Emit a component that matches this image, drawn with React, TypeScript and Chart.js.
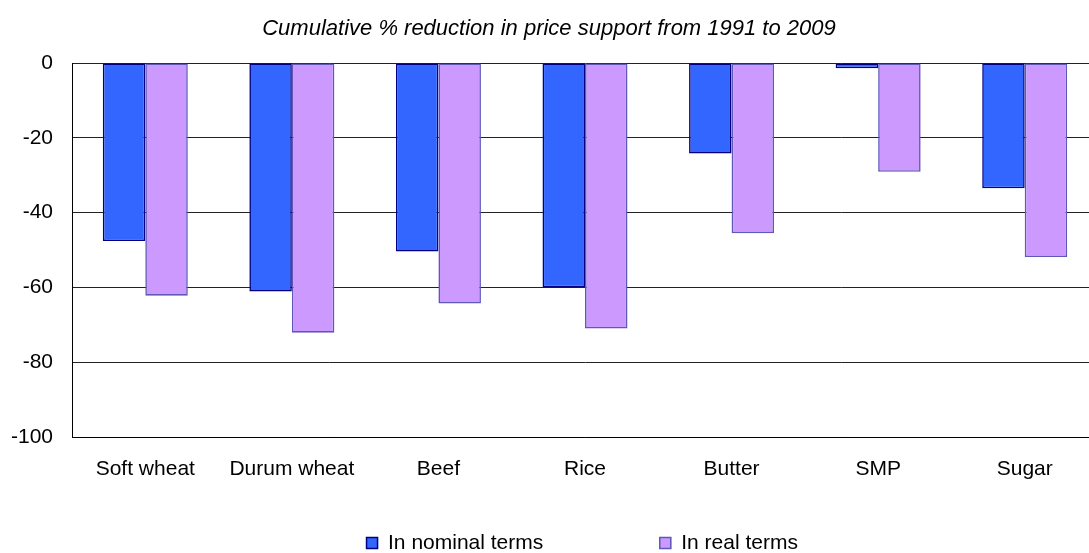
import React, { useEffect, useRef } from 'react';
import { Chart, registerables } from 'chart.js';

Chart.register(...registerables);

const categories = ['Soft wheat', 'Durum wheat', 'Beef', 'Rice', 'Butter', 'SMP', 'Sugar'];
const nominalValues = [-47.6, -61.1, -50.4, -60.0, -24.2, -1.4, -33.5];
const realValues = [-62.2, -72.1, -64.3, -71.0, -45.5, -29.1, -51.9];
const seriesLabels = ['In nominal terms', 'In real terms'];
const yTickValues = [0, -20, -40, -60, -80, -100];
const titleText = 'Cumulative % reduction in price support from 1991 to 2009';

const FONT_FAMILY = '"Liberation Sans", Arial, Helvetica, sans-serif';

const bottomLegend = {
  id: 'bottomLegend',
  afterDraw(chart: any) {
    const ctx = chart.ctx as CanvasRenderingContext2D;
    ctx.save();
    ctx.font = `21px ${FONT_FAMILY}`;
    const box = 12;
    const gap = 10;
    const spacing = 116;
    const items = chart.data.datasets.map((ds: any) => ({
      label: ds.label as string,
      fill: ds.backgroundColor as string,
      stroke: ds.borderColor as string,
      w: ctx.measureText(ds.label).width,
    }));
    const total = items.reduce(
      (s: number, it: any, i: number) => s + box + gap + it.w + (i ? spacing : 0),
      0
    );
    const { left, right } = chart.chartArea;
    let x = (left + right) / 2 - total / 2 - 3;
    const y = chart.height - 10;
    ctx.textBaseline = 'middle';
    ctx.textAlign = 'left';
    items.forEach((it: any) => {
      ctx.fillStyle = it.fill;
      ctx.fillRect(x, Math.round(y - box / 2), box, box);
      ctx.strokeStyle = it.stroke;
      ctx.lineWidth = 1.5;
      ctx.strokeRect(x + 0.5, Math.round(y - box / 2) + 0.5, box - 1, box - 1);
      ctx.fillStyle = '#000';
      ctx.fillText(it.label, x + box + gap, y);
      x += box + gap + it.w + spacing;
    });
    ctx.restore();
  },
};

export default function App() {
  const canvasRef = useRef<HTMLCanvasElement | null>(null);

  useEffect(() => {
    const canvas = canvasRef.current;
    if (!canvas) return;
    const chart = new Chart(canvas, {
      type: 'bar',
      data: {
        labels: categories,
        datasets: [
          {
            label: seriesLabels[0],
            data: nominalValues,
            backgroundColor: '#3366FF',
            borderColor: '#000080',
            borderWidth: 1.6,
            borderSkipped: false,
          },
          {
            label: seriesLabels[1],
            data: realValues,
            backgroundColor: '#CC99FF',
            borderColor: '#5F58B8',
            borderWidth: 1.6,
            borderSkipped: false,
          },
        ],
      },
      options: {
        responsive: false,
        animation: false,
        devicePixelRatio: 1,
        layout: { padding: { left: 0, right: 30, top: 0, bottom: 50.8 } },
        datasets: {
          bar: { barPercentage: 1, categoryPercentage: 0.58 },
        },
        plugins: {
          legend: { display: false },
          tooltip: { enabled: false },
          title: {
            display: true,
            text: titleText,
            color: '#000',
            font: { family: FONT_FAMILY, size: 22, style: 'italic', weight: 'normal' },
            padding: { top: 16, bottom: 20.6 },
          },
        },
        scales: {
          x: {
            grid: { display: false, drawTicks: false },
            border: { display: true, color: '#000', width: 1 },
            ticks: {
              color: '#000',
              padding: 20,
              font: { family: FONT_FAMILY, size: 21 },
            },
          },
          y: {
            min: -100,
            max: 0,
            afterBuildTicks: (scale: any) => {
              scale.ticks = yTickValues.map((v) => ({ value: v }));
            },
            afterFit: (scale: any) => {
              scale.width = 72;
            },
            grid: { color: '#222', lineWidth: 1, drawTicks: false },
            border: { display: true, color: '#000', width: 1 },
            ticks: {
              color: '#000',
              padding: 19,
              font: { family: FONT_FAMILY, size: 21 },
            },
          },
        },
      },
      plugins: [bottomLegend],
    });
    return () => chart.destroy();
  }, []);

  return (
    <div
      style={{
        position: 'fixed',
        left: 0,
        top: 0,
        width: 1089,
        height: 553,
        overflow: 'hidden',
        background: '#fff',
      }}
    >
      <canvas ref={canvasRef} width={1128} height={553} style={{ display: 'block' }} />
    </div>
  );
}
